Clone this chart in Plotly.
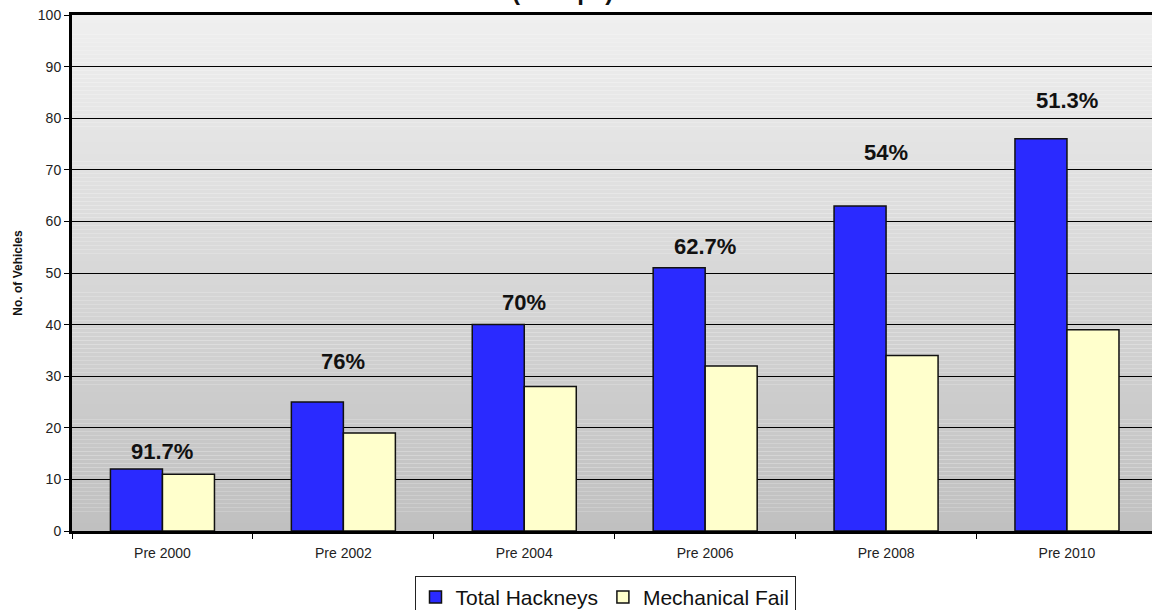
import plotly.graph_objects as go

categories = ["Pre 2000", "Pre 2002", "Pre 2004", "Pre 2006", "Pre 2008", "Pre 2010"]
total_hackneys = [12, 25, 40, 51, 63, 76]
mechanical_fail = [11, 19, 28, 32, 34, 39]
y_ticks = [0, 10, 20, 30, 40, 50, 60, 70, 80, 90, 100]

# label placement (style, not data)
label_y = [15.5, 32.9, 44.2, 55.2, 73.3, 83.4]

FONT = "Liberation Sans, Arial, sans-serif"

fig = go.Figure()
fig.add_trace(go.Bar(
    x=categories, y=total_hackneys, name="Total Hackneys",
    marker=dict(color="#2a2aff", line=dict(color="#111111", width=1.5)),
))
fig.add_trace(go.Bar(
    x=categories, y=mechanical_fail, name="Mechanical Fail",
    marker=dict(color="#ffffcc", line=dict(color="#111111", width=1.5)),
))

# percentage labels
for c, t, m, ly in zip(categories, total_hackneys, mechanical_fail, label_y):
    pct = round(m / t * 100, 1)
    fig.add_annotation(x=c, y=ly, text=f"<b>{pct:g}%</b>", showarrow=False,
                       font=dict(family=FONT, size=22, color="#111111"),
                       xanchor="center", yanchor="middle")

# cut-off title (only its lower edge visible in the reference)
fig.add_annotation(xref="paper", x=(562 - 72) / 1080, yref="paper", y=1.0, yanchor="bottom",
                   yshift=8, text="<b>(Groups)</b>", showarrow=False,
                   font=dict(family=FONT, size=24, color="#111111"))

# gradient background
n = 130
shapes = []
top = (0xef, 0xef, 0xef)
bot = (0xc0, 0xc0, 0xc0)
for i in range(n):
    f = i / (n - 1)
    col = tuple(round(top[k] + (bot[k] - top[k]) * f) for k in range(3))
    shapes.append(dict(type="rect", xref="paper", yref="paper", x0=0, x1=1,
                       y0=1 - (i + 1) / n, y1=1 - i / n, layer="below",
                       line=dict(width=0), fillcolor="rgb(%d,%d,%d)" % col))
fig.update_layout(shapes=shapes)

fig.update_layout(
    width=1152, height=610,
    margin=dict(l=72, r=0, t=15, b=79, autoexpand=False),
    paper_bgcolor="white", plot_bgcolor="rgba(0,0,0,0)",
    barmode="group", bargap=0.425, bargroupgap=0,
    font=dict(family=FONT, color="#222222"),
    showlegend=True,
    legend=dict(orientation="h", x=(605 - 72) / 1080, xanchor="center",
                y=-0.087, yanchor="top", bordercolor="#222222", borderwidth=1,
                font=dict(family=FONT, size=21, color="#111111"),
                itemwidth=30, tracegroupgap=0, bgcolor="white"),
)
fig.update_xaxes(
    range=[-0.5, 5.47], showline=True, linecolor="black", linewidth=3, mirror=True,
    ticks="outside", tickson="boundaries", ticklen=5, tickcolor="black", tickwidth=1,
    ticklabelstandoff=7,
    tickfont=dict(family=FONT, size=14, color="#222222"), showgrid=False,
)
fig.update_yaxes(
    range=[0, 100], tickvals=y_ticks, showline=True, linecolor="black", linewidth=3,
    ticks="outside", ticklen=5, tickcolor="black", tickwidth=1,
    tickfont=dict(family=FONT, size=14, color="#222222"),
    showgrid=True, gridcolor="black", gridwidth=1, zeroline=False,
    title=dict(text="<b>No. of Vehicles</b>", font=dict(family=FONT, size=12, color="#111111"),
               standoff=13),
)

fig.write_html("out.html")
